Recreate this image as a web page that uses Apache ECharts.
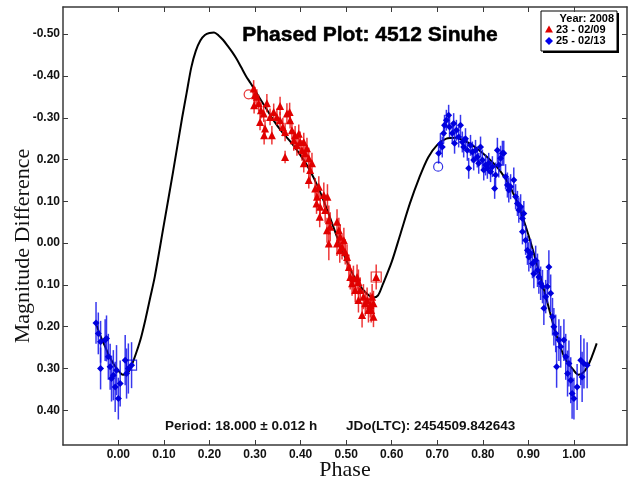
<!DOCTYPE html>
<html><head><meta charset="utf-8">
<script src="https://cdn.jsdelivr.net/npm/echarts@6/dist/echarts.min.js"></script>
<style>html,body{margin:0;padding:0;background:#fff}#c{width:628px;height:482px}</style>
</head><body><div id="c"></div>
<script>
const xTicks = [0,0.1,0.2,0.3,0.4,0.5,0.6,0.7,0.8,0.9,1.0];
const yTicks = [-0.5,-0.4,-0.3,-0.2,-0.1,0,0.1,0.2,0.3,0.4];
const yTickLabels = ['-0.50','-0.40','-0.30','0.20','0.10','0.00','0.10','0.20','0.30','0.40'];

const curvePhase = [-0.05,-0.04,-0.03,-0.02,-0.01,0.00,0.01,0.02,0.03,0.04,0.05,0.06,0.07,0.08,0.10,0.12,0.14,0.15,0.16,0.17,0.18,0.19,0.20,0.21,0.22,0.23,0.24,0.25,0.26,0.27,0.28,0.29,0.30,0.32,0.34,0.36,0.38,0.40,0.42,0.44,0.46,0.48,0.50,0.52,0.54,0.56,0.57,0.58,0.60,0.62,0.64,0.66,0.68,0.70,0.72,0.74,0.76,0.78,0.80,0.82,0.84,0.86,0.88,0.90,0.92,0.94,0.96,0.98,1.00,1.01,1.02,1.03,1.04,1.05];
const curveMag = [0.19,0.22,0.245,0.27,0.29,0.305,0.315,0.312,0.29,0.26,0.225,0.18,0.13,0.08,-0.045,-0.17,-0.30,-0.36,-0.42,-0.46,-0.485,-0.498,-0.503,-0.504,-0.497,-0.486,-0.472,-0.457,-0.44,-0.42,-0.40,-0.383,-0.365,-0.33,-0.295,-0.265,-0.24,-0.21,-0.175,-0.13,-0.075,-0.015,0.04,0.085,0.115,0.13,0.125,0.10,0.045,-0.025,-0.095,-0.155,-0.205,-0.235,-0.25,-0.252,-0.245,-0.232,-0.215,-0.195,-0.17,-0.135,-0.085,-0.02,0.055,0.135,0.215,0.275,0.305,0.315,0.31,0.295,0.27,0.24];

const redPhase = [0.297,0.300,0.304,0.298,0.308,0.313,0.326,0.319,0.311,0.322,0.320,0.333,0.337,0.341,0.348,0.355,0.355,0.361,0.370,0.376,0.377,0.366,0.381,0.385,0.388,0.392,0.396,0.366,0.399,0.403,0.407,0.410,0.407,0.414,0.418,0.421,0.418,0.425,0.432,0.436,0.440,0.435,0.443,0.442,0.451,0.454,0.459,0.462,0.458,0.465,0.462,0.480,0.484,0.480,0.487,0.486,0.491,0.495,0.498,0.502,0.506,0.509,0.513,0.516,0.520,0.524,0.527,0.527,0.531,0.535,0.538,0.542,0.546,0.549,0.553,0.557,0.560,0.566,0.560,0.555];
const redMag = [-0.370,-0.354,-0.350,-0.330,-0.335,-0.318,-0.335,-0.310,-0.290,-0.274,-0.258,-0.302,-0.258,-0.314,-0.302,-0.328,-0.294,-0.278,-0.310,-0.314,-0.294,-0.266,-0.270,-0.246,-0.258,-0.234,-0.262,-0.206,-0.242,-0.222,-0.242,-0.215,-0.191,-0.227,-0.203,-0.175,-0.151,-0.191,-0.131,-0.111,-0.135,-0.095,-0.087,-0.063,-0.115,-0.079,-0.111,-0.055,-0.031,-0.039,0.001,-0.051,-0.031,0.001,-0.015,0.017,0.009,-0.007,0.021,0.033,0.057,0.081,0.096,0.084,0.112,0.081,0.093,0.136,0.112,0.172,0.128,0.144,0.136,0.160,0.148,0.128,0.176,0.081,0.144,0.160];
const redErr = [0.020,0.020,0.018,0.020,0.020,0.020,0.022,0.020,0.020,0.022,0.022,0.020,0.022,0.020,0.020,0.022,0.020,0.022,0.025,0.022,0.020,0.022,0.022,0.025,0.022,0.025,0.022,0.015,0.025,0.025,0.022,0.025,0.022,0.025,0.025,0.025,0.020,0.025,0.025,0.030,0.025,0.025,0.030,0.025,0.030,0.030,0.030,0.035,0.030,0.035,0.040,0.030,0.030,0.030,0.030,0.030,0.030,0.030,0.030,0.030,0.030,0.030,0.030,0.030,0.030,0.030,0.030,0.030,0.030,0.030,0.030,0.030,0.030,0.030,0.030,0.030,0.025,0.030,0.030,0.030];

const bluePhase = [-0.049,-0.044,-0.039,-0.039,-0.029,-0.026,-0.022,-0.018,-0.015,-0.011,-0.007,-0.004,0.000,0.004,0.015,0.018,0.022,0.029,
 0.703,0.707,0.711,0.714,0.716,0.720,0.725,0.727,0.733,0.736,0.738,0.742,0.747,0.751,0.755,0.758,0.762,0.766,0.769,0.773,0.777,0.780,0.784,0.788,0.791,0.795,0.799,0.802,0.806,0.810,0.813,0.817,0.821,0.826,0.828,0.832,0.835,0.839,0.843,0.846,0.850,0.854,0.857,0.861,0.868,0.872,0.876,0.879,0.883,0.887,0.890,0.887,0.894,0.898,0.901,0.905,0.909,0.912,0.916,0.920,0.923,0.927,0.931,0.934,0.938,0.942,0.945,0.949,0.953,0.956,0.960,0.962,0.967,0.971,0.978,0.982,0.986,0.989,0.993,0.996,1.000,1.007,1.015,1.018,1.022,1.029];
const blueMag = [0.191,0.216,0.236,0.300,0.232,0.228,0.272,0.296,0.324,0.316,0.344,0.304,0.372,0.336,0.280,0.312,0.300,0.292,
 -0.215,-0.238,-0.230,-0.263,-0.282,-0.294,-0.306,-0.278,-0.263,-0.286,-0.239,-0.270,-0.254,-0.282,-0.242,-0.230,-0.250,-0.222,-0.179,-0.234,-0.218,-0.199,-0.222,-0.206,-0.191,-0.230,-0.199,-0.175,-0.187,-0.179,-0.191,-0.171,-0.183,-0.131,-0.163,-0.222,-0.187,-0.203,-0.215,-0.215,-0.159,-0.139,-0.127,-0.135,-0.151,-0.111,-0.095,-0.079,-0.087,-0.059,-0.071,-0.027,-0.007,0.017,0.033,0.025,0.049,0.073,0.041,0.065,0.081,0.096,0.104,0.156,0.128,0.104,0.057,0.120,0.176,0.200,0.216,0.296,0.232,0.248,0.232,0.272,0.312,0.288,0.328,0.360,0.372,0.344,0.280,0.320,0.288,0.292];
const blueErr = [0.050,0.050,0.050,0.050,0.050,0.055,0.055,0.055,0.055,0.060,0.060,0.060,0.050,0.055,0.060,0.060,0.060,0.055,
 0.025,0.025,0.025,0.025,0.025,0.025,0.025,0.025,0.025,0.025,0.025,0.025,0.025,0.025,0.025,0.025,0.025,0.025,0.025,0.025,0.025,0.025,0.025,0.025,0.025,0.025,0.025,0.025,0.025,0.025,0.025,0.025,0.025,0.025,0.030,0.030,0.030,0.030,0.030,0.030,0.030,0.030,0.030,0.030,0.030,0.030,0.030,0.030,0.030,0.030,0.030,0.030,0.035,0.035,0.035,0.035,0.035,0.035,0.035,0.040,0.040,0.040,0.040,0.040,0.040,0.040,0.040,0.045,0.045,0.045,0.045,0.050,0.050,0.050,0.050,0.055,0.055,0.055,0.055,0.060,0.050,0.055,0.060,0.060,0.060,0.055];

const redOpen = {circle:[0.286,-0.356], square:[0.566,0.081]};
const blueOpen = {circle:[0.702,-0.183], square:[0.029,0.292]};

const chart = echarts.init(document.getElementById('c'));
function errBar(color){
  return function(params, api){
    const x=api.value(0), y=api.value(1), e=api.value(2);
    const a=api.coord([x,y-e]), b=api.coord([x,y+e]);
    return {type:'line', shape:{x1:a[0],y1:a[1],x2:b[0],y2:b[1]}, style:{stroke:color,lineWidth:1.5}};
  };
}
const frame = {lineStyle:{color:'#3a3a3a',width:1.5}};
const lblFont = {fontFamily:'Liberation Sans, Arial', fontWeight:'bold', fontSize:12, color:'#111'};
const legFont = 'bold 11px "Liberation Sans", Arial';
const option = {
  animation:false,
  backgroundColor:'#fff',
  grid:{left:63,right:1,top:7,bottom:37,containLabel:false,outerBoundsMode:'none'},
  xAxis:[
    {type:'value',min:-0.1215,max:1.1165,position:'bottom',
     axisLine:{show:true,onZero:false,...frame},
     axisTick:{show:true,inside:true,length:5,customValues:xTicks,lineStyle:{color:'#3a3a3a'}},
     axisLabel:{show:true,customValues:xTicks,margin:4,formatter:v=>v.toFixed(2),...lblFont},
     splitLine:{show:false}},
    {type:'value',min:-0.1215,max:1.1165,position:'top',
     axisLine:{show:true,onZero:false,...frame},
     axisTick:{show:true,inside:true,length:5,customValues:xTicks,lineStyle:{color:'#3a3a3a'}},
     axisLabel:{show:false},splitLine:{show:false}}
  ],
  yAxis:[
    {type:'value',inverse:true,min:-0.565,max:0.483,position:'left',
     axisLine:{show:true,onZero:false,...frame},
     axisTick:{show:true,inside:true,length:5,customValues:yTicks,lineStyle:{color:'#3a3a3a'}},
     axisLabel:{show:true,customValues:yTicks,margin:3,
       formatter:v=>{const i=yTicks.findIndex(t=>Math.abs(t-v)<1e-6);return i>=0?yTickLabels[i]:'';},...lblFont},
     splitLine:{show:false}},
    {type:'value',inverse:true,min:-0.565,max:0.483,position:'right',
     axisLine:{show:true,onZero:false,...frame},
     axisTick:{show:true,inside:true,length:5,customValues:yTicks,lineStyle:{color:'#3a3a3a'}},
     axisLabel:{show:false},splitLine:{show:false}}
  ],
  graphic:[
    {type:'text',x:370,y:35,style:{text:'Phased Plot: 4512 Sinuhe',fill:'#000',stroke:'#000',lineWidth:0.5,font:'bold 21px "Liberation Sans", Arial',textAlign:'center',textVerticalAlign:'middle'}},
    {type:'text',x:165,y:426,style:{text:'Period: 18.000 ± 0.012 h',fill:'#111',font:'bold 13.5px "Liberation Sans", Arial',textAlign:'left',textVerticalAlign:'middle'}},
    {type:'text',x:346,y:426,style:{text:'JDo(LTC): 2454509.842643',fill:'#111',font:'bold 13.5px "Liberation Sans", Arial',textAlign:'left',textVerticalAlign:'middle'}},
    {type:'text',x:23,y:246,rotation:Math.PI/2,style:{text:'Magnitude Difference',fill:'#111',font:'22px "Liberation Serif", "Times New Roman"',textAlign:'center',textVerticalAlign:'middle'}},
    {type:'text',x:345,y:470,style:{text:'Phase',fill:'#111',font:'22px "Liberation Serif", "Times New Roman"',textAlign:'center',textVerticalAlign:'middle'}},
    {type:'rect',shape:{x:543,y:13,width:76,height:40},style:{fill:'#000'}},
    {type:'rect',shape:{x:541,y:11,width:76,height:40},style:{fill:'#fff',stroke:'#000',lineWidth:1}},
    {type:'text',x:614,y:18.5,style:{text:'Year: 2008',fill:'#000',font:legFont,textAlign:'right',textVerticalAlign:'middle'}},
    {type:'polygon',shape:{points:[[549,25.5],[553,32.5],[545,32.5]]},style:{fill:'#e00000'}},
    {type:'text',x:556,y:29.5,style:{text:'23 - 02/09',fill:'#000',font:legFont,textAlign:'left',textVerticalAlign:'middle'}},
    {type:'polygon',shape:{points:[[549,37],[553,41],[549,45],[545,41]]},style:{fill:'#0000ee'}},
    {type:'text',x:556,y:41,style:{text:'25 - 02/13',fill:'#000',font:legFont,textAlign:'left',textVerticalAlign:'middle'}}
  ],
  series:[
    {type:'line',data:curvePhase.map((p,i)=>[p,curveMag[i]]),smooth:0.3,showSymbol:false,symbol:'none',
     lineStyle:{color:'#000',width:2},z:1,silent:true},
    {type:'custom',renderItem:errBar('rgba(235,20,20,0.85)'),data:redPhase.map((p,i)=>[p,redMag[i],redErr[i]]),z:2,clip:true},
    {type:'custom',renderItem:errBar('rgba(20,20,235,0.85)'),data:bluePhase.map((p,i)=>[p,blueMag[i],blueErr[i]]),z:2,clip:true},
    {type:'scatter',name:'23 - 02/09',symbol:'triangle',symbolSize:8,data:redPhase.map((p,i)=>[p,redMag[i]]),itemStyle:{color:'#e00000',opacity:1},z:3},
    {type:'scatter',name:'25 - 02/13',symbol:'diamond',symbolSize:7,data:bluePhase.map((p,i)=>[p,blueMag[i]]),itemStyle:{color:'#0000dd',opacity:1},z:3},
    {type:'scatter',symbol:'circle',symbolSize:9,data:[redOpen.circle],itemStyle:{color:'none',borderColor:'#e00000',borderWidth:1.2},z:4},
    {type:'scatter',symbol:'rect',symbolSize:10,data:[redOpen.square],itemStyle:{color:'none',borderColor:'#e00000',borderWidth:1.2},z:4},
    {type:'scatter',symbol:'circle',symbolSize:9,data:[blueOpen.circle],itemStyle:{color:'none',borderColor:'#0000dd',borderWidth:1.2},z:4},
    {type:'scatter',symbol:'rect',symbolSize:10,data:[blueOpen.square],itemStyle:{color:'none',borderColor:'#0000dd',borderWidth:1.2},z:4}
  ]
};
chart.setOption(option);
</script></body></html>
